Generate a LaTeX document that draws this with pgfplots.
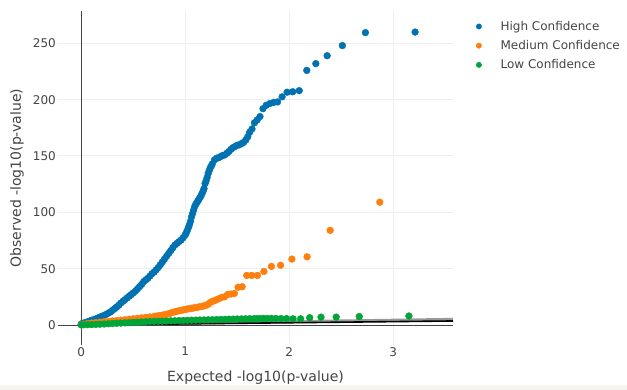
\documentclass[border=0pt]{standalone}
\usepackage{fontspec}
\setmainfont{DejaVu Sans}
\usepackage{pgfplots}
\pgfplotsset{compat=1.18}
\definecolor{hiblue}{HTML}{0072B2}
\definecolor{meorange}{HTML}{FF7F0E}
\definecolor{logreen}{HTML}{00A538}
\definecolor{textcol}{HTML}{444444}
\definecolor{gridcol}{HTML}{EEEEEE}
\definecolor{zerocol}{HTML}{444444}
\definecolor{bandcol}{HTML}{F7F5F0}
\begin{document}
\begin{tikzpicture}
\useasboundingbox (0bp,0bp) rectangle (627bp,390bp);
\fill[white] (0bp,0bp) rectangle (627bp,390bp);
\fill[bandcol] (0bp,0bp) rectangle (627bp,4.5bp);
\begin{axis}[
  at={(58bp,45bp)}, anchor=south west,
  scale only axis, width=395bp, height=334bp,
  xmin=-0.224, xmax=3.574, ymin=-17.75, ymax=278.7,
  axis line style={draw=none},
  major tick length=0pt,
  xtick={1,2,3}, ytick={50,100,150,200,250},
  extra x ticks={0}, extra y ticks={0},
  grid=major, major grid style={color=gridcol, line width=1bp},
  extra tick style={grid=major, major grid style={color=zerocol, line width=1bp}},
  /pgf/number format/assume math mode=true,
  tick label style={font=\fontsize{12bp}{14bp}\selectfont, text=textcol},
  xticklabel style={inner sep=2bp},
  yticklabel style={inner sep=2bp},
  xlabel={Expected -log10(p-value)},
  ylabel={Observed -log10(p-value)},
  label style={font=\fontsize{14bp}{16bp}\selectfont, text=textcol},
  xlabel style={at={(axis description cs:0.5,-0.0988)}, anchor=center},
  ylabel style={at={(axis description cs:-0.1038,0.5)}, anchor=center},
  legend style={at={(axis description cs:1,1)}, anchor=north west,
    xshift=23bp, yshift=-8bp, draw=none, fill=none, inner sep=0pt,
    font=\fontsize{12bp}{14bp}\selectfont, text=textcol,
    row sep=4.6bp,
    /tikz/every odd column/.append style={column sep=17bp}},
  legend cell align=left,
  legend image code/.code={\draw[#1,mark size=2.7bp] plot coordinates {(0bp,0bp)};},
]
\addplot[only marks, mark=*, mark size=3.4bp, color=hiblue, mark options={fill=hiblue, draw=hiblue}] coordinates {
(3.2095,260) (2.732,259.5) (2.5105,248) (2.364,239) (2.255,232) (2.168,226)
(2.0956,208) (2.033,207) (1.979,206.6) (1.931,202.5) (1.887,198) (1.848,197.5)
(1.812,196.5) (1.778,195) (1.747,192) (1.718,185) (1.691,182) (1.665,179.5)
(1.641,174) (1.618,171)
(1.60,167) (1.58,164) (1.56,162) (1.54,161) (1.52,160) (1.50,159.5) (1.48,158.5)
(1.46,157.5) (1.44,156) (1.42,154) (1.40,152.5) (1.38,151) (1.36,150.5) (1.34,149.5)
(1.32,148.5) (1.30,148) (1.28,146.5) (1.26,143) (1.25,141) (1.24,139.5) (1.23,137)
(1.22,134.5) (1.21,131) (1.20,128) (1.19,125.5) (1.18,121) (1.17,118.5) (1.16,116.5)
(1.15,114.5) (1.14,113) (1.13,111.5) (1.12,110) (1.11,108.5) (1.10,107) (1.09,105)
(1.08,102) (1.07,99) (1.06,96) (1.05,92) (1.04,89) (1.03,86.5) (1.02,84) (1.01,82)
(1.00,80) (0.98,77.5) (0.96,75.5) (0.94,74) (0.92,72.5) (0.90,71) (0.88,68.5)
(0.86,66) (0.84,63.5) (0.82,61) (0.80,58.5) (0.78,56) (0.76,53.5) (0.74,51)
(0.72,49) (0.70,47) (0.68,45.5) (0.66,43.5) (0.64,41.5) (0.62,40) (0.60,38.5)
(0.58,36) (0.56,34) (0.54,32) (0.52,30) (0.50,28.5) (0.48,27) (0.46,25.5)
(0.44,24) (0.42,22.5) (0.40,21) (0.38,19.5) (0.36,17.5) (0.34,16) (0.32,14.5)
(0.30,13) (0.28,11.5) (0.26,10.5) (0.24,9.5) (0.22,8.5) (0.20,7.8) (0.18,7)
(0.16,6.2) (0.14,5.5) (0.12,4.8) (0.10,4.2) (0.08,3.5) (0.06,2.8) (0.04,2.2)
(0.02,1.6) (0.00,1.0)
};
\addlegendentry{High Confidence}
\addplot[only marks, mark=*, mark size=3.4bp, color=meorange, mark options={fill=meorange, draw=meorange}] coordinates {
(2.870,109) (2.393,84) (2.171,60.5) (2.025,58.5) (1.916,53) (1.828,52) (1.756,47.5)
(1.694,44) (1.639,44) (1.591,44) (1.547,34) (1.508,33.5) (1.472,28) (1.438,27.5)
(1.407,27) (1.378,25) (1.351,24.5) (1.326,23.5) (1.302,22.5) (1.279,21.5)
(1.26,21) (1.24,20) (1.22,18.5) (1.20,17.5) (1.18,17) (1.16,16.5) (1.14,16.2)
(1.12,15.8) (1.10,15.5) (1.08,15.1) (1.06,14.8) (1.04,14.5) (1.02,14.2) (1.00,13.8)
(0.98,13.4) (0.96,13) (0.94,12.6) (0.92,12.2) (0.90,11.8) (0.88,11.2) (0.86,10.6)
(0.84,10) (0.82,9.5) (0.80,9.1) (0.78,8.7) (0.76,8.4) (0.74,8.1) (0.72,7.8)
(0.70,7.5) (0.66,7.1) (0.62,6.7) (0.58,6.3) (0.54,5.9) (0.50,5.5) (0.46,5.1)
(0.42,4.7) (0.38,4.3) (0.34,3.9) (0.30,3.6) (0.26,3.2) (0.22,2.9) (0.18,2.5)
(0.14,2.1) (0.10,1.7) (0.06,1.2) (0.02,0.7) (0.00,0.4)
};
\addlegendentry{Medium Confidence}
\addplot[only marks, mark=*, mark size=3.4bp, color=logreen, mark options={fill=logreen, draw=logreen}] coordinates {
(3.150,8) (2.673,7.5) (2.451,7) (2.305,7) (2.196,6.5) (2.109,5.5) (2.036,5.5)
(1.974,5.7) (1.920,5.7) (1.871,5.8) (1.828,5.8) (1.788,5.8) (1.752,5.8) (1.718,5.7)
(1.687,5.7) (1.66,5.6) (1.62,5.6) (1.58,5.5) (1.54,5.4) (1.50,5.3) (1.46,5.2)
(1.42,5.1) (1.38,5.0) (1.34,4.9) (1.30,4.8) (1.26,4.7) (1.22,4.6) (1.18,4.5)
(1.14,4.4) (1.10,4.3) (1.06,4.2) (1.02,4.1) (0.98,4.0) (0.94,3.9) (0.90,3.8)
(0.86,3.7) (0.82,3.5) (0.78,3.4) (0.74,3.3) (0.70,3.2) (0.66,3.1) (0.62,2.9)
(0.58,2.7) (0.54,2.5) (0.50,2.3) (0.46,2.1) (0.42,1.9) (0.38,1.7) (0.34,1.5)
(0.30,1.3) (0.26,1.1) (0.22,0.9) (0.18,0.7) (0.14,0.5) (0.10,0.4) (0.06,0.3)
(0.02,0.2) (0.00,0.1)
};
\addlegendentry{Low Confidence}
\addplot[forget plot, color=black!40, line width=3bp] coordinates {(0,0.3) (3.574,5.0)};
\addplot[forget plot, color=black, line width=1.6bp] coordinates {(0,0) (3.574,3.574)};
\end{axis}
\end{tikzpicture}
\end{document}
